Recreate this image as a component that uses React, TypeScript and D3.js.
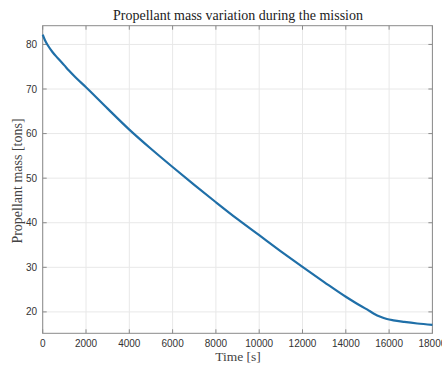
import React from "react";
import * as d3 from "d3";

const timeS = [0, 100, 250, 450, 700, 1000, 1200, 1500, 2000, 3000, 4000, 5000, 6000, 7000, 8000, 9000, 10000, 11000, 12000, 13000, 14000, 14500, 15000, 15300, 15600, 15900, 16200, 16700, 17300, 18000];
const massTons = [82.2, 81.0, 79.7, 78.3, 76.9, 75.3, 74.2, 72.7, 70.4, 65.6, 60.9, 56.6, 52.5, 48.5, 44.6, 40.8, 37.2, 33.6, 30.1, 26.7, 23.4, 21.9, 20.5, 19.6, 18.9, 18.4, 18.1, 17.75, 17.4, 17.1];
const xTicks = [0, 2000, 4000, 6000, 8000, 10000, 12000, 14000, 16000, 18000];
const yTicks = [20, 30, 40, 50, 60, 70, 80];

const W = 442, H = 365;
const L = 42.7, R = 432.4, T = 25.7, B = 333.3;

export default function App() {
  const x = d3.scaleLinear().domain([0, 18000]).range([L, R]);
  const y = d3.scaleLinear().domain([15.2, 84.2]).range([B, T]);
  const pts = timeS.map((t, i) => [t, massTons[i]] as [number, number]);
  const line = d3.line<[number, number]>().x(d => x(d[0])).y(d => y(d[1])).curve(d3.curveMonotoneX);
  const axisCol = "#8a8a8a";
  const gridCol = "#e8e8e8";
  const tickCol = "#333";
  const serif = "'Liberation Serif', 'DejaVu Serif', serif";
  const sans = "'Liberation Sans', Arial, sans-serif";
  return (
    <svg width={W} height={H} style={{ position: "absolute", left: 0, top: 0, background: "#fff" }}>
      <rect x={0} y={0} width={W} height={H} fill="#fff" />
      {xTicks.map(t => (
        <line key={"gx" + t} x1={x(t)} x2={x(t)} y1={T} y2={B} stroke={gridCol} strokeWidth={1} />
      ))}
      {yTicks.map(t => (
        <line key={"gy" + t} x1={L} x2={R} y1={y(t)} y2={y(t)} stroke={gridCol} strokeWidth={1} />
      ))}
      <rect x={L} y={T} width={R - L} height={B - T} fill="none" stroke={axisCol} strokeWidth={1} />
      {xTicks.map(t => (
        <g key={"tx" + t}>
          <line x1={x(t)} x2={x(t)} y1={B} y2={B - 4} stroke={axisCol} />
          <line x1={x(t)} x2={x(t)} y1={T} y2={T + 4} stroke={axisCol} />
          <text x={x(t)} y={347} textAnchor="middle" fontFamily={sans} fontSize={10} fill={tickCol}>{t}</text>
        </g>
      ))}
      {yTicks.map(t => (
        <g key={"ty" + t}>
          <line x1={L} x2={L + 4} y1={y(t)} y2={y(t)} stroke={axisCol} />
          <line x1={R} x2={R - 4} y1={y(t)} y2={y(t)} stroke={axisCol} />
          <text x={37} y={y(t) + 3.5} textAnchor="end" fontFamily={sans} fontSize={10} fill={tickCol}>{t}</text>
        </g>
      ))}
      <path d={line(pts) || ""} fill="none" stroke="#1f6fa8" strokeWidth={2.2} strokeLinejoin="round" />
      <text x={238} y={20} textAnchor="middle" fontFamily={serif} fontSize={14} fill="#222">Propellant mass variation during the mission</text>
      <text x={238} y={361} textAnchor="middle" fontFamily={serif} fontSize={13.5} fill="#444">Time [s]</text>
      <text transform={`translate(22,181) rotate(-90)`} textAnchor="middle" fontFamily={serif} fontSize={14} fill="#444">Propellant mass [tons]</text>
    </svg>
  );
}
